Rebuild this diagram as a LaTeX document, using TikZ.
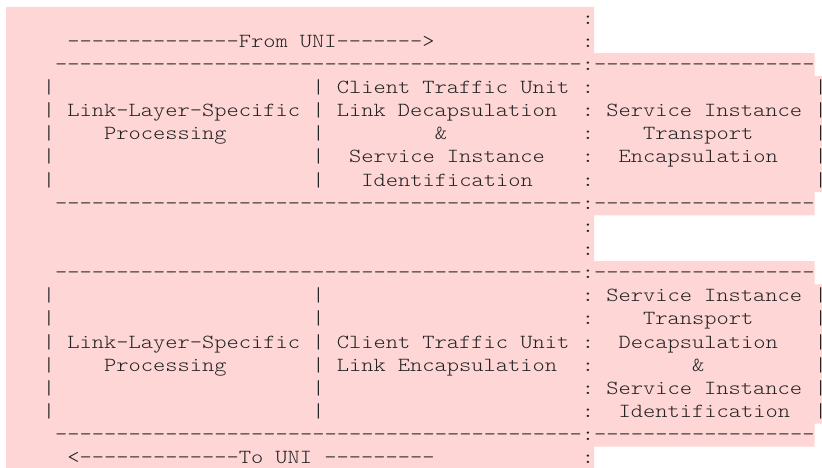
\documentclass[tikz,border=0pt]{standalone}
\usepackage{fontspec}
\setmonofont{lmmonolt10-regular.otf}[FakeStretch=1.16667]
\definecolor{pinkbg}{RGB}{255,214,214}
\definecolor{ink}{RGB}{34,34,34}
\tikzset{
  txt/.style={anchor=base west, inner sep=0pt, outer sep=0pt, text=ink,
    font=\ttfamily\fontsize{20}{23.13}\selectfont},
  hilite/.style={fill=pinkbg, draw=none}
}
% row, column, text
\newcommand\putt[3]{\node[txt] (r#1c#2) at ({6+#2*12.25},{24.2+(#1-1)*23.13}) {#3};}
% row, number of characters of the highlighted line
\newcommand\band[2]{(6,{7+(#1-1)*23.13-0.2}) rectangle ({min(822,6+#2*12.25)},{min(468,7+#1*23.13+0.2)})}
\newcommand\dashline[1]{\putt{#1}{4}{-------------------------------------------:------------------}}
\begin{document}
\begin{tikzpicture}[x=1pt,y=-1pt]
\useasboundingbox (0,0) rectangle (822,468);
\fill[hilite] \band{1}{48} \band{2}{48} \band{3}{66}
  \band{4}{67} \band{5}{67} \band{6}{67} \band{7}{67} \band{8}{67}
  \band{9}{66} \band{10}{48} \band{11}{48} \band{12}{66}
  \band{13}{67} \band{14}{67} \band{15}{67} \band{16}{67} \band{17}{67} \band{18}{67}
  \band{19}{66} \band{20}{48};
% row 1-2
\putt{1}{47}{:}
\putt{2}{5}{--------------From UNI------->}
\putt{2}{47}{:}
% upper block
\dashline{3}
\putt{4}{3}{|}\putt{4}{25}{|}\putt{4}{27}{Client Traffic Unit}\putt{4}{47}{:}\putt{4}{66}{|}
\putt{5}{3}{|}\putt{5}{5}{Link-Layer-Specific}\putt{5}{25}{|}\putt{5}{27}{Link Decapsulation}\putt{5}{47}{:}\putt{5}{49}{Service Instance}\putt{5}{66}{|}
\putt{6}{3}{|}\putt{6}{8}{Processing}\putt{6}{25}{|}\putt{6}{35}{\&}\putt{6}{47}{:}\putt{6}{52}{Transport}\putt{6}{66}{|}
\putt{7}{3}{|}\putt{7}{25}{|}\putt{7}{28}{Service Instance}\putt{7}{47}{:}\putt{7}{50}{Encapsulation}\putt{7}{66}{|}
\putt{8}{3}{|}\putt{8}{25}{|}\putt{8}{29}{Identification}\putt{8}{47}{:}\putt{8}{66}{|}
\dashline{9}
\putt{10}{47}{:}
\putt{11}{47}{:}
% lower block
\dashline{12}
\putt{13}{3}{|}\putt{13}{25}{|}\putt{13}{47}{:}\putt{13}{49}{Service Instance}\putt{13}{66}{|}
\putt{14}{3}{|}\putt{14}{25}{|}\putt{14}{47}{:}\putt{14}{52}{Transport}\putt{14}{66}{|}
\putt{15}{3}{|}\putt{15}{5}{Link-Layer-Specific}\putt{15}{25}{|}\putt{15}{27}{Client Traffic Unit}\putt{15}{47}{:}\putt{15}{50}{Decapsulation}\putt{15}{66}{|}
\putt{16}{3}{|}\putt{16}{8}{Processing}\putt{16}{25}{|}\putt{16}{27}{Link Encapsulation}\putt{16}{47}{:}\putt{16}{56}{\&}\putt{16}{66}{|}
\putt{17}{3}{|}\putt{17}{25}{|}\putt{17}{47}{:}\putt{17}{49}{Service Instance}\putt{17}{66}{|}
\putt{18}{3}{|}\putt{18}{25}{|}\putt{18}{47}{:}\putt{18}{50}{Identification}\putt{18}{66}{|}
\dashline{19}
\putt{20}{5}{<-------------To UNI ---------}
\putt{20}{47}{:}
\end{tikzpicture}
\end{document}
